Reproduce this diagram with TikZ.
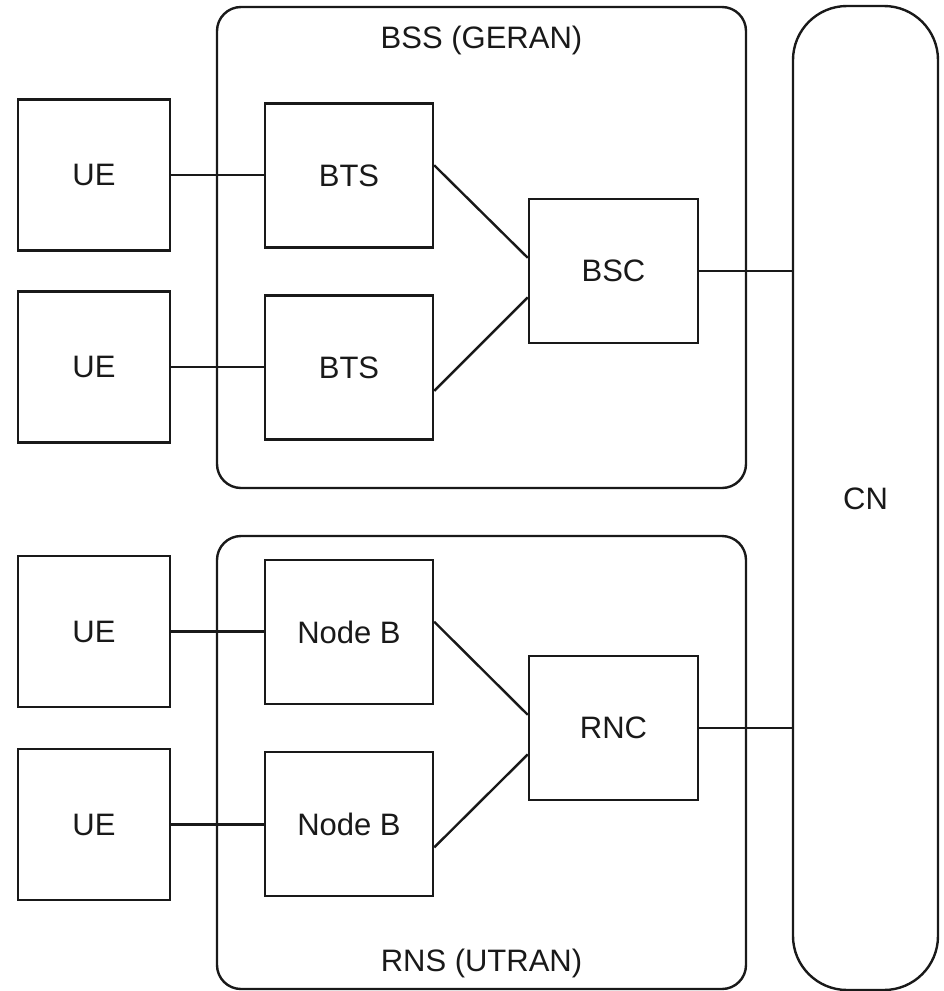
\documentclass[tikz,border=0pt]{standalone}
\usepackage{fontspec}
\setmainfont{Liberation Sans}
\usetikzlibrary{calc}
\begin{document}
\begin{tikzpicture}[x=1pt,y=-1pt,
  every node/.style={font=\fontsize{31}{37}\selectfont, text=black!90},
  stroke/.style={line width=2.4pt, draw=black!90},
  box/.style={stroke, rectangle, inner sep=0pt},
  uebox/.style={box, minimum width=152pt, minimum height=151pt},
  btsbox/.style={box, minimum width=168pt, minimum height=144pt},
  ctrlbox/.style={box, minimum width=169pt, minimum height=144pt},
  group/.style={stroke, rectangle, rounded corners=24pt, inner sep=0pt},
  link/.style={stroke}
]
\useasboundingbox (0,0) rectangle (943,991);

% containers
\node[group, minimum width=529pt, minimum height=481pt] (bss) at (481.5,247.5) {};
\node[group, minimum width=529pt, minimum height=453pt] (rns) at (481.5,762.5) {};
\node[stroke, rectangle, rounded corners=54pt, inner sep=0pt, minimum width=145pt, minimum height=984pt] (cn) at (865.5,498) {};
\node (cnlabel) at (865.5,499) {CN};
\node (bsslabel) at (481.5,40) {BSS (GERAN)};
\node (rnslabel) at (481.5,963) {RNS (UTRAN)};

% UEs
\node[uebox] (ue1) at (94,175) {UE};
\node[uebox] (ue2) at (94,367) {UE};
\node[uebox] (ue3) at (94,631.5) {UE};
\node[uebox] (ue4) at (94,824.5) {UE};

% base stations
\node[btsbox] (bts1) at (349,175.5) {BTS};
\node[btsbox] (bts2) at (349,367.5) {BTS};
\node[btsbox] (nb1) at (349,632) {Node B};
\node[btsbox] (nb2) at (349,824) {Node B};

% controllers
\node[ctrlbox] (bsc) at (613.5,271) {BSC};
\node[ctrlbox] (rnc) at (613.5,728) {RNC};

% connectors UE - base station
\draw[link] (ue1.east) -- (ue1.east -| bts1.west);
\draw[link] (ue2.east) -- (ue2.east -| bts2.west);
\draw[link] (ue3.east) -- (ue3.east -| nb1.west);
\draw[link] (ue4.east) -- (ue4.east -| nb2.west);

% base station - controller
\draw[link] ($(bts1.north east)!0.43!(bts1.south east)$) -- ($(bsc.north west)!0.41!(bsc.south west)$);
\draw[link] ($(bts2.north east)!0.66!(bts2.south east)$) -- ($(bsc.north west)!0.68!(bsc.south west)$);
\draw[link] ($(nb1.north east)!0.43!(nb1.south east)$) -- ($(rnc.north west)!0.41!(rnc.south west)$);
\draw[link] ($(nb2.north east)!0.66!(nb2.south east)$) -- ($(rnc.north west)!0.68!(rnc.south west)$);

% controller - CN
\draw[link] (bsc.east) -- (bsc.east -| cn.west);
\draw[link] (rnc.east) -- (rnc.east -| cn.west);
\end{tikzpicture}
\end{document}
